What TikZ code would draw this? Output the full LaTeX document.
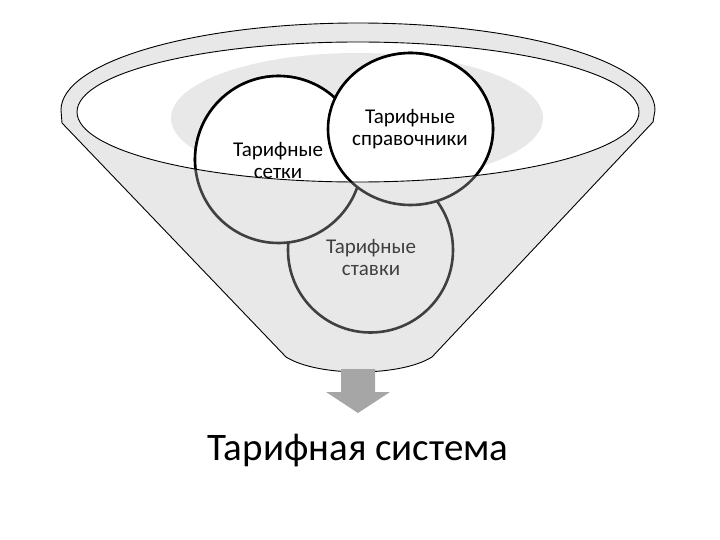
\documentclass[tikz,border=0pt]{standalone}
\usepackage{fontspec}
\setmainfont{Carlito}
\usetikzlibrary{shapes.geometric}
\definecolor{funnelgray}{HTML}{E8E8E8}
\definecolor{blobgray}{HTML}{E8E8E8}
\definecolor{ringdark}{HTML}{404040}
\definecolor{arrowgray}{HTML}{A6A6A6}
\tikzset{
  ringlow/.style={fill=funnelgray, draw=ringdark, line width=2.6pt},
  ringhigh/.style={fill=white, draw=black, line width=2.6pt},
  outline/.style={draw=black, line width=0.9pt},
  smalltext/.style={align=center, font=\fontsize{21}{22}\selectfont, inner sep=0pt},
  bigtext/.style={font=\fontsize{39}{46}\selectfont, inner sep=0pt}
}
\begin{document}
\begin{tikzpicture}[x=1pt,y=-1pt]
\useasboundingbox (0,0) rectangle (720,540);
% funnel body
\fill[funnelgray] (286,357) -- (62,123) -- (61,110)
  .. controls (61,62) and (194,23) .. (358,23)
  .. controls (522,23) and (655,62) .. (655,110)
  -- (653,122) -- (432,357)
  .. controls (400,377) and (318,377) .. (286,357) -- cycle;
% inner opening
\fill[white] (358,112) ellipse[x radius=281, y radius=70];
\begin{scope}
  \clip (358,112) ellipse[x radius=281, y radius=70];
  \fill[blobgray] (357,118) ellipse[x radius=186, y radius=65];
\end{scope}
% circles, lower (seen through funnel) pass
\node[circle, ringlow, minimum size=165pt, inner sep=0pt] (c3) at (370.5,250) {};
\node[circle, ringlow, minimum size=167pt, inner sep=0pt] (c1) at (278.5,159.5) {};
\node[ellipse, ringlow, minimum width=165pt, minimum height=152pt, inner sep=0pt] (c2) at (410.5,129) {};
% upper pass inside opening
\begin{scope}
  \clip (358,112) ellipse[x radius=281, y radius=70];
  \path[ringhigh] (c3.center) circle[radius=82.5];
  \path[ringhigh] (c1.center) circle[radius=83.5];
  \path[ringhigh] (c2.center) ellipse[x radius=82.5, y radius=76];
\end{scope}
% outlines
\draw[outline] (358,112) ellipse[x radius=281, y radius=70];
\draw[outline] (286,357) -- (62,123) -- (61,110)
  .. controls (61,62) and (194,23) .. (358,23)
  .. controls (522,23) and (655,62) .. (655,110)
  -- (653,122) -- (432,357)
  .. controls (400,377) and (318,377) .. (286,357) -- cycle;
% labels
\node[smalltext] (t1) at (278,160) {Тарифные\\сетки};
\node[smalltext] (t2) at (410,129) {Тарифные\\справочники};
\node[smalltext, text=ringdark] (t3) at (371,257) {Тарифные\\ставки};
% arrow
\fill[arrowgray] (341,369) -- (375,369) -- (375,392) -- (390,392) -- (358,413)
  -- (326,392) -- (341,392) -- cycle;
\node[bigtext, anchor=base] (sys) at (358,460) {Тарифная система};
\end{tikzpicture}
\end{document}
